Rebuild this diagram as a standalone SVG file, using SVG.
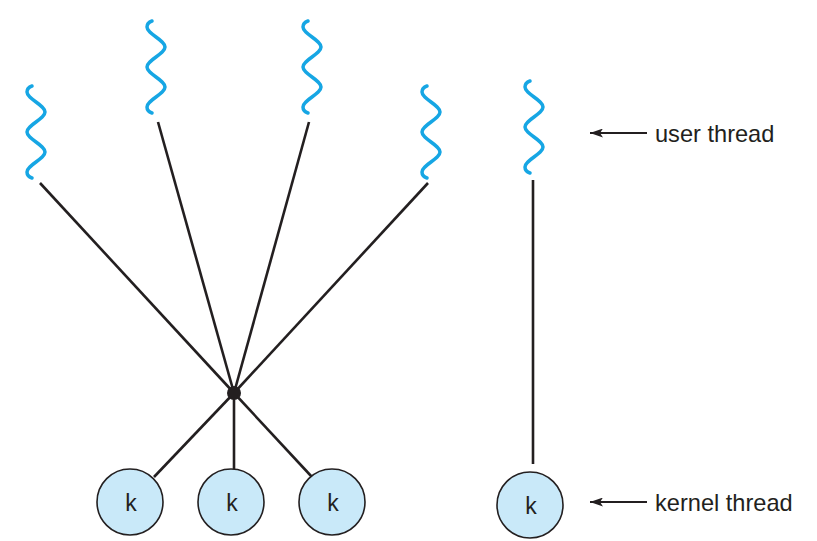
<svg xmlns="http://www.w3.org/2000/svg" width="817" height="541" viewBox="0 0 817 541">
<style>
.wave{fill:none;stroke:#16a6e4;stroke-width:3.5;stroke-linecap:round}
.edge{fill:none;stroke:#231f20;stroke-width:2.6}
.knode{fill:#c9e9f9;stroke:#231f20;stroke-width:1.6}
.lbl{font-family:"Liberation Sans",Arial,sans-serif;font-size:23.6px;fill:#231f20}
.k{font-family:"Liberation Sans",Arial,sans-serif;font-size:23px;fill:#231f20;text-anchor:middle}
.ptr{stroke:#231f20;stroke-width:2}
</style>
<defs>
<path id="w" d="M -4,0 C -7,1 -9,3 -9,6 C -9,13 9,19 9,26 C 9,33 -9,39 -9,46 C -9,53 9,59 9,66 C 9,73 -9,79 -9,86 C -9,89 -7,91 -4,92"/>
<marker id="ah" viewBox="0 0 13 9" refX="0" refY="4.5" markerWidth="13" markerHeight="9" markerUnits="userSpaceOnUse" orient="auto">
<path d="M0,4.5 L13,0 L10,4.5 L13,9 Z" fill="#231f20"/>
</marker>
</defs>
<g id="connectors">
<line class="edge" x1="40" y1="183" x2="234" y2="393"/>
<line class="edge" x1="158" y1="122" x2="234" y2="393"/>
<line class="edge" x1="309" y1="122" x2="234" y2="393"/>
<line class="edge" x1="428" y1="183" x2="234" y2="393"/>
<line class="edge" x1="234" y1="393" x2="154" y2="477"/>
<line class="edge" x1="234" y1="393" x2="234" y2="469"/>
<line class="edge" x1="234" y1="393" x2="312" y2="477"/>
<line class="edge" x1="533" y1="180" x2="533" y2="464"/>
<line class="ptr" x1="590" y1="133" x2="647" y2="133" marker-start="url(#ah)"/>
<line class="ptr" x1="590" y1="502" x2="647" y2="502" marker-start="url(#ah)"/>
</g>
<g id="user1"><use href="#w" class="wave" transform="translate(36,86)"/></g>
<g id="user2"><use href="#w" class="wave" transform="translate(156,21)"/></g>
<g id="user3"><use href="#w" class="wave" transform="translate(312,21)"/></g>
<g id="user4"><use href="#w" class="wave" transform="translate(431,86)"/></g>
<g id="user5"><use href="#w" class="wave" transform="translate(534,81)"/></g>
<g id="hub"><circle cx="234" cy="393" r="7" fill="#231f20"/></g>
<g id="k1"><circle class="knode" cx="130" cy="502" r="33"/><text class="k" x="131" y="511">k</text></g>
<g id="k2"><circle class="knode" cx="231" cy="502" r="33"/><text class="k" x="232" y="511">k</text></g>
<g id="k3"><circle class="knode" cx="332" cy="502" r="33"/><text class="k" x="333" y="511">k</text></g>
<g id="k4"><circle class="knode" cx="530" cy="505" r="33"/><text class="k" x="531" y="514">k</text></g>
<g id="label-user"><text class="lbl" x="655" y="142">user thread</text></g>
<g id="label-kernel"><text class="lbl" x="655" y="511">kernel thread</text></g>
</svg>
